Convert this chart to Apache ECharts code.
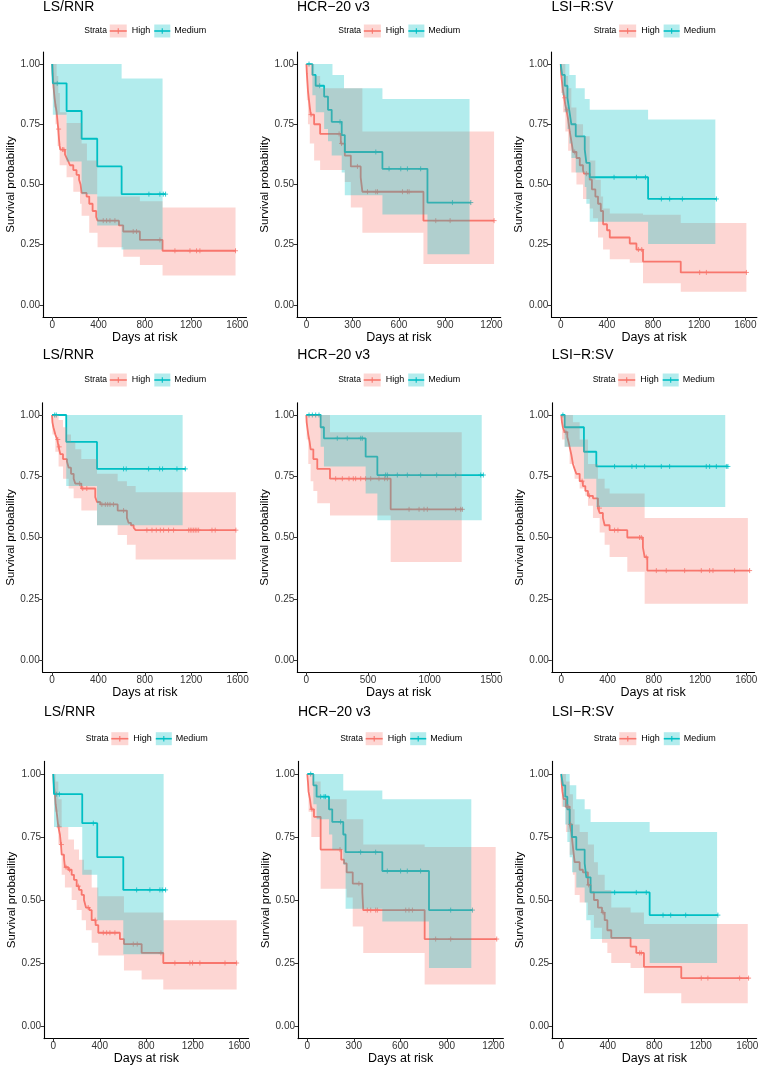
<!DOCTYPE html>
<html><head><meta charset="utf-8">
<script src="https://cdn.jsdelivr.net/npm/echarts@6/dist/echarts.min.js"></script>
<style>html,body{margin:0;padding:0;background:#fff}#c{width:762px;height:1069px}</style>
</head><body><div id="c"></div>
<script>
// ---------------- DATA ----------------
const panelTitles = ['LS/RNR', 'HCR\u221220 v3', 'LSI\u2212R:SV', 'LS/RNR', 'HCR\u221220 v3', 'LSI\u2212R:SV', 'LS/RNR', 'HCR\u221220 v3', 'LSI\u2212R:SV'];
const strataNames = ['High', 'Medium'];
const xTicks1600 = [0, 400, 800, 1200, 1600];
const xTicks1200 = [0, 300, 600, 900, 1200];
const xTicks1500 = [0, 500, 1000, 1500];
const yTicks = [0, 0.25, 0.5, 0.75, 1];

// Panel 1: LS/RNR (row 1)
const p1HighCurve = [[0,1],[3,0.96],[8,0.93],[14,0.89],[20,0.86],[28,0.83],[38,0.80],[46,0.76],[52,0.73],[58,0.69],[64,0.66],[70,0.645],[110,0.625],[124,0.61],[140,0.595],[153,0.58],[182,0.56],[210,0.54],[232,0.52],[245,0.50],[254,0.465],[297,0.45],[320,0.42],[349,0.39],[380,0.365],[392,0.35],[577,0.33],[614,0.305],[758,0.27],[954,0.225],[1585,0.225]];
const p1HighUpper = [[0,1],[20,1],[38,0.95],[52,0.88],[66,0.80],[124,0.755],[254,0.67],[300,0.60],[389,0.45],[758,0.43],[954,0.405],[1585,0.405]];
const p1HighLower = [[0,1],[3,0.90],[14,0.82],[28,0.75],[46,0.66],[64,0.58],[124,0.53],[182,0.47],[240,0.42],[254,0.37],[320,0.30],[392,0.24],[614,0.20],[758,0.166],[954,0.122],[1585,0.122]];
const p1HighCensor = [55, 88, 100, 441, 470, 499, 542, 700, 729, 931, 1061, 1191, 1248, 1277, 1585];
const p1MedCurve = [[0,1],[5,0.92],[124,0.805],[254,0.69],[389,0.575],[600,0.46],[980,0.46]];
const p1MedUpper = [[0,1],[600,0.94],[954,0.94]];
const p1MedLower = [[0,1],[5,0.79],[124,0.595],[254,0.46],[389,0.33],[600,0.23],[954,0.23]];
const p1MedCensor = [43, 836, 931, 960, 980];

// Panel 2: HCR-20 v3 (row 1)
const p2HighCurve = [[0,1],[3,0.96],[6,0.93],[10,0.89],[15,0.86],[22,0.82],[28,0.79],[50,0.75],[89,0.71],[223,0.67],[249,0.62],[288,0.575],[352,0.53],[363,0.47],[759,0.35],[1217,0.35]];
const p2HighUpper = [[0,1],[28,1],[50,0.95],[89,0.90],[363,0.72],[1217,0.72]];
const p2HighLower = [[0,1],[3,0.85],[10,0.75],[22,0.67],[50,0.60],[89,0.56],[249,0.51],[288,0.405],[363,0.30],[759,0.17],[1217,0.17]];
const p2HighCensor = [30, 212, 228, 331, 396, 450, 461, 623, 655, 666, 839, 932, 1217];
const p2MedCurve = [[0,1],[39,0.955],[60,0.91],[115,0.865],[140,0.81],[164,0.76],[229,0.705],[249,0.635],[493,0.565],[785,0.425],[1066,0.425]];
const p2MedUpper = [[0,1],[169,0.955],[244,0.90],[493,0.855],[1058,0.855]];
const p2MedLower = [[0,1],[39,0.87],[60,0.80],[115,0.73],[140,0.68],[164,0.62],[229,0.55],[249,0.455],[493,0.375],[785,0.21],[1058,0.21]];
const p2MedCensor = [17, 86, 218, 450, 536, 612, 655, 741, 947, 1066];

// Panel 3: LSI-R:SV (row 1)
const p3HighCurve = [[0,1],[3,0.96],[10,0.93],[20,0.89],[30,0.86],[40,0.83],[49,0.81],[64,0.77],[78,0.72],[92,0.68],[107,0.635],[136,0.61],[165,0.58],[193,0.56],[202,0.545],[251,0.52],[270,0.48],[300,0.45],[323,0.42],[347,0.39],[367,0.335],[401,0.31],[425,0.28],[598,0.255],[656,0.23],[713,0.18],[1040,0.135],[1609,0.135]];
const p3HighUpper = [[0,1],[40,0.95],[64,0.90],[92,0.82],[136,0.75],[193,0.70],[251,0.60],[300,0.52],[347,0.45],[367,0.40],[425,0.38],[713,0.374],[1040,0.34],[1609,0.34]];
const p3HighLower = [[0,1],[3,0.88],[20,0.80],[40,0.72],[64,0.64],[92,0.55],[136,0.50],[193,0.44],[251,0.40],[280,0.36],[323,0.28],[367,0.23],[425,0.19],[598,0.175],[713,0.09],[1040,0.055],[1609,0.055]];
const p3HighCensor = [35, 55, 121, 222, 673, 702, 1204, 1262, 1609];
const p3MedCurve = [[0,1],[12,0.955],[35,0.91],[58,0.86],[75,0.805],[92,0.75],[130,0.70],[208,0.645],[222,0.59],[251,0.53],[757,0.44],[1349,0.44]];
const p3MedUpper = [[0,1],[75,0.955],[130,0.90],[208,0.855],[251,0.81],[757,0.77],[1340,0.77]];
const p3MedLower = [[0,1],[12,0.87],[35,0.80],[58,0.73],[75,0.67],[92,0.61],[130,0.55],[208,0.49],[222,0.42],[251,0.345],[757,0.253],[1340,0.253]];
const p3MedCensor = [462, 656, 734, 872, 944, 1054, 1349];

// Panel 4: LS/RNR (row 2)
const p4HighCurve = [[0,1],[4,0.97],[12,0.95],[29,0.92],[45,0.90],[57,0.87],[72,0.84],[95,0.82],[129,0.81],[144,0.785],[164,0.76],[187,0.74],[201,0.72],[253,0.70],[373,0.665],[388,0.645],[416,0.635],[566,0.61],[646,0.58],[660,0.56],[681,0.55],[704,0.54],[721,0.53],[1585,0.53]];
const p4HighUpper = [[0,1],[57,0.98],[95,0.95],[129,0.92],[164,0.89],[201,0.86],[253,0.82],[388,0.76],[566,0.73],[646,0.71],[721,0.685],[1585,0.685]];
const p4HighLower = [[0,1],[4,0.92],[29,0.85],[57,0.79],[95,0.74],[144,0.70],[187,0.66],[253,0.61],[388,0.55],[566,0.51],[646,0.47],[721,0.41],[1585,0.41]];
const p4HighCensor = [50, 62, 238, 265, 300, 430, 460, 480, 500, 530, 617, 818, 862, 899, 934, 962, 1005, 1048, 1178, 1192, 1206, 1221, 1235, 1249, 1264, 1379, 1407, 1585];
const p4MedCurve = [[0,1],[123,0.89],[388,0.78],[1149,0.78]];
const p4MedUpper = [[0,1],[1126,1]];
const p4MedLower = [[0,1],[123,0.71],[388,0.55],[1126,0.55]];
const p4MedCensor = [23, 37, 617, 640, 833, 928, 953, 1077, 1149];

// Panel 5: HCR-20 v3 (row 2)
const p5HighCurve = [[0,1],[3,0.97],[8,0.95],[16,0.92],[27,0.89],[35,0.86],[57,0.82],[89,0.78],[192,0.74],[684,0.615],[1265,0.615]];
const p5HighUpper = [[0,1],[192,0.93],[1260,0.93]];
const p5HighLower = [[0,1],[3,0.90],[16,0.80],[35,0.73],[57,0.69],[89,0.64],[192,0.59],[684,0.40],[1260,0.40]];
const p5HighCensor = [238, 292, 346, 381, 400, 441, 481, 522, 589, 635, 657, 833, 914, 954, 981, 1211, 1251, 1265];
const p5MedCurve = [[0,1],[116,0.95],[143,0.905],[481,0.83],[576,0.755],[1435,0.755]];
const p5MedUpper = [[0,1],[1422,1]];
const p5MedLower = [[0,1],[116,0.87],[143,0.79],[481,0.68],[576,0.57],[1422,0.57]];
const p5MedCensor = [22, 49, 76, 103, 251, 332, 441, 454, 643, 657, 738, 819, 927, 1057, 1211, 1414, 1435];

// Panel 6: LSI-R:SV (row 2)
const p6HighCurve = [[0,1],[6,0.97],[14,0.95],[29,0.93],[52,0.91],[63,0.89],[72,0.87],[86,0.84],[101,0.80],[115,0.78],[130,0.76],[159,0.73],[187,0.71],[208,0.69],[231,0.67],[274,0.66],[317,0.62],[332,0.60],[360,0.58],[375,0.55],[418,0.53],[571,0.50],[706,0.46],[721,0.42],[744,0.365],[1629,0.365]];
const p6HighUpper = [[0,1],[101,0.97],[159,0.90],[231,0.80],[317,0.74],[375,0.70],[418,0.68],[721,0.58],[1614,0.58]];
const p6HighLower = [[0,1],[6,0.90],[29,0.87],[72,0.80],[115,0.74],[159,0.70],[208,0.67],[231,0.63],[274,0.58],[332,0.52],[375,0.47],[418,0.42],[571,0.36],[721,0.23],[1614,0.23]];
const p6HighCensor = [40, 180, 245, 330, 461, 490, 677, 692, 735, 822, 908, 1067, 1211, 1283, 1312, 1499, 1629];
const p6MedCurve = [[0,1],[29,0.95],[196,0.85],[303,0.79],[1441,0.79]];
const p6MedUpper = [[0,1],[1418,1]];
const p6MedLower = [[0,1],[29,0.87],[196,0.74],[303,0.625],[1418,0.625]];
const p6MedCensor = [14, 461, 611, 649, 721, 865, 937, 1254, 1283, 1341, 1427, 1441];

// Panel 7: LS/RNR (row 3)
const p7HighCurve = [[0,1],[6,0.95],[14,0.92],[20,0.88],[29,0.85],[43,0.79],[57,0.76],[66,0.72],[72,0.68],[92,0.665],[100,0.63],[129,0.62],[158,0.60],[178,0.58],[201,0.555],[221,0.54],[244,0.52],[264,0.50],[281,0.47],[310,0.46],[330,0.42],[364,0.40],[387,0.37],[573,0.345],[608,0.325],[760,0.29],[946,0.25],[1577,0.25]];
const p7HighUpper = [[0,1],[20,0.97],[43,0.90],[72,0.79],[129,0.74],[178,0.70],[221,0.66],[264,0.62],[330,0.55],[387,0.515],[608,0.45],[946,0.42],[1577,0.42]];
const p7HighLower = [[0,1],[14,0.85],[43,0.72],[72,0.60],[100,0.55],[158,0.50],[201,0.46],[244,0.42],[281,0.38],[330,0.33],[387,0.28],[608,0.22],[760,0.185],[946,0.145],[1577,0.145]];
const p7HighCensor = [50, 70, 110, 140, 215, 300, 360, 430, 459, 487, 530, 688, 722, 926, 1046, 1175, 1198, 1261, 1477, 1577];
const p7MedCurve = [[0,1],[6,0.92],[249,0.805],[378,0.67],[602,0.54],[966,0.54]];
const p7MedUpper = [[0,1],[949,1]];
const p7MedLower = [[0,1],[6,0.79],[249,0.60],[378,0.42],[602,0.285],[949,0.285]];
const p7MedCensor = [29, 52, 344, 717, 831, 917, 937, 966];

// Panel 8: HCR-20 v3 (row 3)
const p8HighCurve = [[0,1],[4,0.97],[8,0.93],[17,0.90],[26,0.86],[43,0.83],[86,0.70],[219,0.66],[237,0.645],[254,0.61],[293,0.565],[355,0.53],[361,0.46],[757,0.345],[1222,0.345]];
const p8HighUpper = [[0,1],[43,0.97],[86,0.90],[254,0.82],[361,0.72],[757,0.71],[1215,0.71]];
const p8HighLower = [[0,1],[8,0.85],[26,0.75],[86,0.545],[254,0.51],[293,0.395],[361,0.29],[757,0.165],[1215,0.165]];
const p8HighCensor = [30, 211, 333, 387, 409, 441, 452, 635, 656, 678, 828, 925, 1222];
const p8MedCurve = [[0,1],[39,0.955],[60,0.91],[140,0.86],[161,0.81],[232,0.76],[247,0.69],[484,0.615],[785,0.46],[1065,0.46]];
const p8MedUpper = [[0,1],[232,0.935],[484,0.90],[1058,0.90]];
const p8MedLower = [[0,1],[39,0.88],[60,0.82],[140,0.76],[161,0.70],[232,0.64],[247,0.465],[484,0.415],[785,0.23],[1058,0.23]];
const p8MedCensor = [22, 86, 108, 118, 215, 344, 441, 516, 602, 645, 731, 925, 1065];

// Panel 9: LSI-R:SV (row 3)
const p9HighCurve = [[0,1],[4,0.96],[10,0.93],[20,0.90],[40,0.87],[72,0.80],[86,0.77],[100,0.71],[115,0.65],[158,0.62],[186,0.61],[229,0.56],[252,0.53],[281,0.50],[315,0.47],[350,0.45],[373,0.42],[396,0.38],[430,0.35],[596,0.315],[645,0.29],[711,0.235],[1032,0.19],[1611,0.19]];
const p9HighUpper = [[0,1],[40,0.97],[72,0.92],[100,0.86],[115,0.80],[158,0.77],[229,0.72],[281,0.65],[315,0.60],[373,0.54],[430,0.47],[596,0.45],[711,0.405],[1604,0.405]];
const p9HighLower = [[0,1],[4,0.87],[40,0.77],[72,0.68],[100,0.60],[115,0.52],[158,0.49],[229,0.44],[281,0.39],[350,0.33],[396,0.29],[430,0.25],[596,0.23],[711,0.13],[1032,0.09],[1604,0.09]];
const p9HighCensor = [50, 58, 80, 235, 360, 674, 688, 1204, 1261, 1534, 1611];
const p9MedCurve = [[0,1],[14,0.955],[34,0.91],[52,0.86],[72,0.80],[92,0.75],[129,0.70],[201,0.645],[215,0.59],[252,0.53],[760,0.44],[1347,0.44]];
const p9MedUpper = [[0,1],[72,0.955],[129,0.90],[201,0.86],[252,0.81],[760,0.77],[1340,0.77]];
const p9MedLower = [[0,1],[14,0.87],[34,0.80],[52,0.73],[72,0.67],[92,0.61],[129,0.55],[201,0.49],[215,0.42],[252,0.345],[760,0.25],[1340,0.25]];
const p9MedCensor = [459, 645, 731, 875, 941, 1070, 1347];

// ---------------- ASSEMBLY ----------------
const panels = [
  { high: [p1HighCurve, p1HighUpper, p1HighLower, p1HighCensor], med: [p1MedCurve, p1MedUpper, p1MedLower, p1MedCensor], ticks: xTicks1600 },
  { high: [p2HighCurve, p2HighUpper, p2HighLower, p2HighCensor], med: [p2MedCurve, p2MedUpper, p2MedLower, p2MedCensor], ticks: xTicks1200 },
  { high: [p3HighCurve, p3HighUpper, p3HighLower, p3HighCensor], med: [p3MedCurve, p3MedUpper, p3MedLower, p3MedCensor], ticks: xTicks1600 },
  { high: [p4HighCurve, p4HighUpper, p4HighLower, p4HighCensor], med: [p4MedCurve, p4MedUpper, p4MedLower, p4MedCensor], ticks: xTicks1600 },
  { high: [p5HighCurve, p5HighUpper, p5HighLower, p5HighCensor], med: [p5MedCurve, p5MedUpper, p5MedLower, p5MedCensor], ticks: xTicks1500 },
  { high: [p6HighCurve, p6HighUpper, p6HighLower, p6HighCensor], med: [p6MedCurve, p6MedUpper, p6MedLower, p6MedCensor], ticks: xTicks1600 },
  { high: [p7HighCurve, p7HighUpper, p7HighLower, p7HighCensor], med: [p7MedCurve, p7MedUpper, p7MedLower, p7MedCensor], ticks: xTicks1600 },
  { high: [p8HighCurve, p8HighUpper, p8HighLower, p8HighCensor], med: [p8MedCurve, p8MedUpper, p8MedLower, p8MedCensor], ticks: xTicks1200 },
  { high: [p9HighCurve, p9HighUpper, p9HighLower, p9HighCensor], med: [p9MedCurve, p9MedUpper, p9MedLower, p9MedCensor], ticks: xTicks1600 }
];

// layout (pixels) per panel
const layout = [
  { left: 43,    width: 203.5, top: 52,     height: 265,   xMin: -80, xMax: 1680, titleTop: 0,     legendY: 31 },
  { left: 297,   width: 203.7, top: 52,     height: 265,   xMin: -61, xMax: 1260, titleTop: 0,     legendY: 31 },
  { left: 551.4, width: 205.5, top: 52,     height: 265,   xMin: -81, xMax: 1700, titleTop: 0,     legendY: 31 },
  { left: 42.7,  width: 204.2, top: 402.75, height: 269.5, xMin: -80, xMax: 1680, titleTop: 348.5, legendY: 380 },
  { left: 297.3, width: 202.8, top: 402.75, height: 269.5, xMin: -73, xMax: 1571, titleTop: 348.5, legendY: 380 },
  { left: 551.8, width: 202.8, top: 402.75, height: 269.5, xMin: -82, xMax: 1672, titleTop: 348.5, legendY: 380 },
  { left: 44,    width: 204.6, top: 761.4,  height: 277.2, xMin: -80, xMax: 1680, titleTop: 705.5, legendY: 738.7 },
  { left: 298,   width: 205.4, top: 761.4,  height: 277.2, xMin: -60, xMax: 1265, titleTop: 705.5, legendY: 738.7 },
  { left: 552,   width: 204.6, top: 761.4,  height: 277.2, xMin: -80, xMax: 1680, titleTop: 705.5, legendY: 738.7 }
];

const FONT = '"Liberation Sans", Arial, Helvetica, sans-serif';
const COL = { High: '#F8766D', Medium: '#00BFC4' };
const FILL = { High: 'rgba(248,118,109,0.3)', Medium: 'rgba(0,191,196,0.3)' };

function stepValue(curve, t) {
  let v = curve[0][1];
  for (const p of curve) { if (p[0] <= t) v = p[1]; else break; }
  return v;
}
function stepPath(arr) {
  const out = [];
  for (let i = 0; i < arr.length; i++) {
    out.push([arr[i][0], arr[i][1]]);
    if (i < arr.length - 1) out.push([arr[i + 1][0], arr[i][1]]);
  }
  return out;
}
function bandPolygon(upper, lower) {
  return stepPath(upper).concat(stepPath(lower).reverse());
}

const grids = [], xAxes = [], yAxes = [], series = [], titles = [], graphics = [];

panels.forEach((p, i) => {
  const L = layout[i];
  grids.push({ left: L.left, top: L.top, width: L.width, height: L.height });
  xAxes.push({
    gridIndex: i, type: 'value', min: L.xMin, max: L.xMax,
    splitLine: { show: false },
    axisLine: { onZero: false, lineStyle: { color: '#000', width: 1.1 } },
    axisTick: { customValues: p.ticks, length: 3.5, lineStyle: { color: '#333', width: 1 } },
    axisLabel: { customValues: p.ticks, fontSize: 10, color: '#333', margin: 3, fontFamily: FONT,
      formatter: v => String(v) },
    name: 'Days at risk', nameLocation: 'middle', nameGap: 13.5,
    nameTextStyle: { fontSize: 12.5, color: '#000', fontFamily: FONT }
  });
  yAxes.push({
    gridIndex: i, type: 'value', min: -0.05, max: 1.05,
    splitLine: { show: false },
    axisLine: { onZero: false, lineStyle: { color: '#000', width: 1.1 } },
    axisTick: { customValues: yTicks, length: 3.5, lineStyle: { color: '#333', width: 1 } },
    axisLabel: { customValues: yTicks, fontSize: 10, color: '#333', margin: 3, fontFamily: FONT,
      formatter: v => Number(v).toFixed(2) },
    name: 'Survival probability', nameLocation: 'middle', nameGap: 26,
    nameTextStyle: { fontSize: 11.5, color: '#000', fontFamily: FONT }
  });
  titles.push({ text: panelTitles[i], left: L.left, top: L.titleTop, padding: 0,
    textStyle: { fontSize: 14, fontWeight: 'normal', color: '#000', fontFamily: FONT } });

  const groups = [['High', p.high], ['Medium', p.med]];
  groups.forEach(([name, g], gi) => {
    const [curve, upper, lower, censor] = g;
    // step line (drawn under ribbons as in the original)
    series.push({
      type: 'line', name, xAxisIndex: i, yAxisIndex: i, data: curve, step: 'end',
      showSymbol: false, silent: true, z: 2,
      lineStyle: { color: COL[name], width: 1.8 }, itemStyle: { color: COL[name] }
    });
    // censor marks
    series.push({
      type: 'scatter', name, xAxisIndex: i, yAxisIndex: i, silent: true, z: 2,
      data: censor.map(t => [t, stepValue(curve, t)]),
      symbol: 'path://M5,0L5,10M0,5L10,5', symbolSize: 5,
      itemStyle: { color: 'rgba(0,0,0,0)', borderColor: COL[name], borderWidth: 1 }
    });
    // confidence ribbon
    const poly = bandPolygon(upper, lower);
    series.push({
      type: 'custom', name, xAxisIndex: i, yAxisIndex: i, silent: true, z: 3 + gi,
      data: [upper[0]],
      renderItem: (params, api) => {
        if (params.dataIndex !== 0) return null;
        return { type: 'polygon', shape: { points: poly.map(pt => api.coord(pt)) },
          style: { fill: FILL[name], stroke: null } };
      }
    });
  });

  // legend (Strata  [High]  [Medium])
  const cx = L.left + L.width / 2, cy = L.legendY;
  const txt = (x, s, size) => ({ type: 'text', x, y: cy, silent: true,
    style: { text: s, x: 0, y: 0, fill: '#000', font: size + 'px ' + FONT,
      textVerticalAlign: 'middle', verticalAlign: 'middle', textAlign: 'left', align: 'left' } });
  const key = (x0, w, name) => ([
    { type: 'rect', silent: true, shape: { x: x0, y: cy - 6.5, width: w, height: 13 }, style: { fill: FILL[name] } },
    { type: 'line', silent: true, shape: { x1: x0, y1: cy, x2: x0 + w, y2: cy }, style: { stroke: COL[name], lineWidth: 1.6 } },
    { type: 'line', silent: true, shape: { x1: x0 + w / 2, y1: cy - 2.8, x2: x0 + w / 2, y2: cy + 2.8 }, style: { stroke: COL[name], lineWidth: 1.1 } }
  ]);
  graphics.push(txt(cx - 60.5, 'Strata', 8.5));
  graphics.push(...key(cx - 35, 17, 'High'));
  graphics.push(txt(cx - 13, strataNames[0], 9));
  graphics.push(...key(cx + 9.5, 16, 'Medium'));
  graphics.push(txt(cx + 29.5, strataNames[1], 9));
});

const chart = echarts.init(document.getElementById('c'), null, { renderer: 'canvas' });
chart.setOption({
  animation: false,
  backgroundColor: '#fff',
  textStyle: { fontFamily: FONT },
  title: titles,
  grid: grids,
  xAxis: xAxes,
  yAxis: yAxes,
  series,
  graphic: { elements: graphics }
});
</script></body></html>
